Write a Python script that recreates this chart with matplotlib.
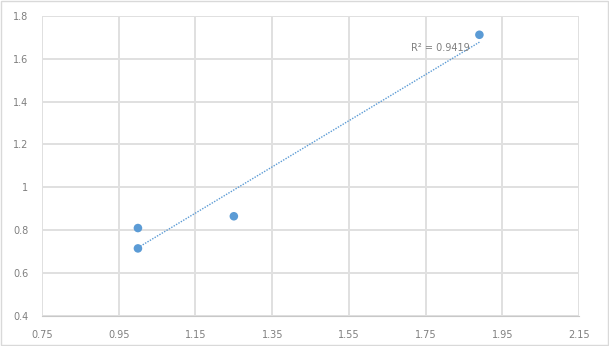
import numpy as np
import matplotlib.pyplot as plt

# data
x_vals = [1.0, 1.0, 1.25, 1.89]
y_vals = [0.715, 0.81, 0.865, 1.712]
x_ticks = [0.75, 0.95, 1.15, 1.35, 1.55, 1.75, 1.95, 2.15]
y_ticks = [0.4, 0.6, 0.8, 1.0, 1.2, 1.4, 1.6, 1.8]
r2_label = "R² = 0.9419"

blue = '#5B9BD5'
grey = '#7F7F7F'

fig = plt.figure(figsize=(6.09, 3.46), dpi=100)
ax = fig.add_axes([0.069, 0.087, 0.882, 0.867])

ax.scatter(x_vals, y_vals, s=38, color=blue, zorder=3, edgecolors='none')

# linear trendline
slope, intercept = np.polyfit(x_vals, y_vals, 1)
xs = np.array([min(x_vals), max(x_vals)])
ax.plot(xs, slope * xs + intercept, color=blue, lw=1.0, ls=(0, (1, 1)), zorder=2)
ax.text(1.865, 1.648, r2_label, ha='right', va='center', fontsize=7, color=grey)

ax.set_xlim(0.75, 2.15)
ax.set_ylim(0.4, 1.8)
ax.set_xticks(x_ticks)
ax.set_yticks(y_ticks)
ax.set_xticklabels([f'{v:g}' for v in x_ticks])
ax.set_yticklabels([f'{v:g}' for v in y_ticks])
ax.tick_params(length=0, labelsize=7, colors=grey, pad=10)
ax.grid(True, color='#E0E0E0', lw=1.4)
ax.set_axisbelow(True)
for s in ax.spines.values():
    s.set_visible(False)
ax.spines['bottom'].set_visible(True)
ax.spines['bottom'].set_color('#C8C8C8')

# outer border of the chart
fig.patches.append(plt.Rectangle((0.002, 0.003), 0.996, 0.994, transform=fig.transFigure,
                                 fill=False, edgecolor='#D9D9D9', lw=1))

plt.savefig('out.png', dpi=100)
